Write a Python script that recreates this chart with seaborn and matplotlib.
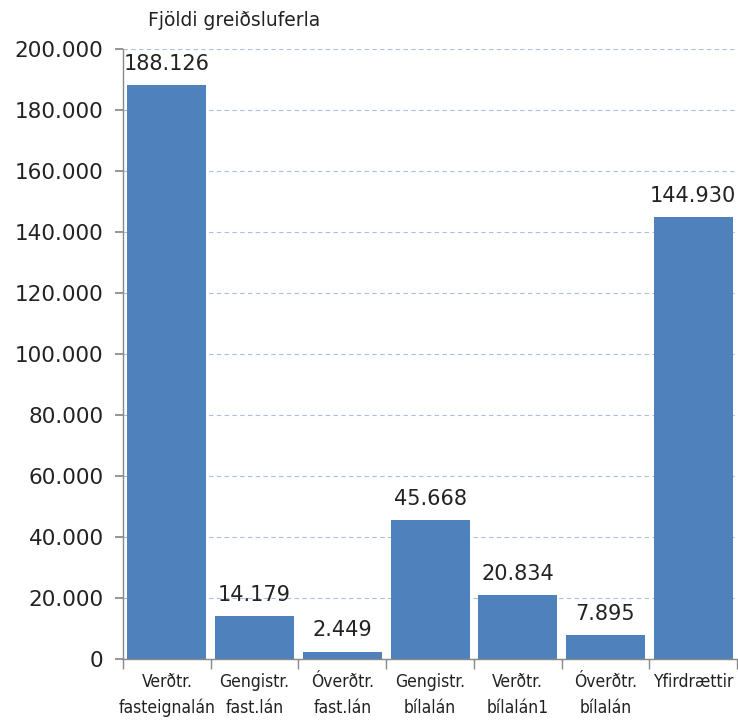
import matplotlib
matplotlib.use("Agg")
import matplotlib.pyplot as plt
import seaborn as sns
import numpy as np
from matplotlib.ticker import FuncFormatter, FixedLocator

categories = ["Verðtr.\nfasteignalán", "Gengistr.\nfast.lán", "Óverðtr.\nfast.lán",
              "Gengistr.\nbílalán", "Verðtr.\nbílalán1", "Óverðtr.\nbílalán", "Yfirdrættir"]
values = [188126, 14179, 2449, 45668, 20834, 7895, 144930]
title = "Fjöldi greiðsluferla"

sns.set_theme(style="white")
plt.rcParams['font.family'] = ['DejaVu Sans']

def fmt(v):
    return f"{int(v):,}".replace(",", ".")

fig = plt.figure(figsize=(7.38, 7.23), dpi=100)
ax = fig.add_axes([0.1667, 0.0885, 0.832, 0.8435])
sns.barplot(x=categories, y=values, color="#4F81BD", saturation=1, width=0.9, ax=ax, linewidth=0)

ax.set_ylim(0, 200000)
ax.set_xlim(-0.5, len(categories) - 0.5)
ax.yaxis.set_major_locator(FixedLocator(np.arange(0, 200001, 20000)))
ax.yaxis.set_major_formatter(FuncFormatter(lambda v, p: fmt(v)))
ax.tick_params(axis='y', labelsize=15.5, length=6, color='#888888', direction='out', left=True, pad=8, labelcolor='#222222')
ax.set_axisbelow(True)
ax.yaxis.grid(True, linestyle=(0, (4, 3)), color='#A8C0E0', linewidth=0.8)
ax.xaxis.grid(False)
for s in ['top', 'right']:
    ax.spines[s].set_visible(False)
for s in ['left', 'bottom']:
    ax.spines[s].set_color('#888888')
    ax.spines[s].set_linewidth(1)

ax.set_xticks(range(len(categories)))
ax.set_xticklabels(categories, fontsize=12.5, fontstretch='condensed', linespacing=1.55)
ax.tick_params(axis='x', which='major', length=0, pad=10, labelcolor='#222222')
ax.set_xticks(np.arange(-0.5, len(categories) + 0.5, 1), minor=True)
ax.tick_params(axis='x', which='minor', length=7, color='#888888', bottom=True)
ax.set_xlabel("")
ax.set_ylabel("")

ax.bar_label(ax.containers[0], labels=[fmt(v) for v in values], fontsize=15, padding=8, color='#222222')

fig.text(0.2, 0.972, title, fontsize=13.5, ha='left', va='center', color='#222222')

fig.savefig("out.png", dpi=100)
